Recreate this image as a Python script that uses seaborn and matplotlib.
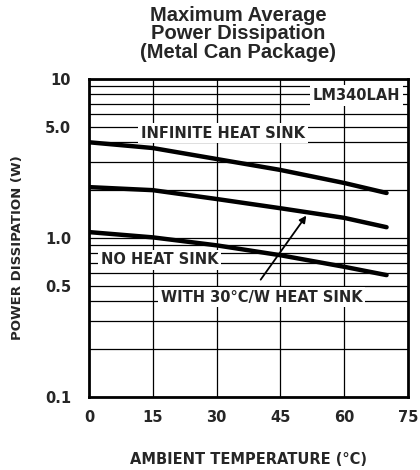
import numpy as np
import pandas as pd
import seaborn as sns
import matplotlib.pyplot as plt
from matplotlib.ticker import FixedLocator, NullFormatter, NullLocator

# values
temps = [0, 15, 30, 45, 60, 70]
infinite_sink = [4.0, 3.68, 3.14, 2.68, 2.22, 1.92]
sink_30cw = [2.09, 2.0, 1.76, 1.54, 1.34, 1.17]
no_sink = [1.09, 1.01, 0.90, 0.78, 0.66, 0.585]

x_ticks = [0, 15, 30, 45, 60, 75]
y_ticks = [0.1, 0.5, 1.0, 5.0, 10]
y_tick_labels = ["0.1", "0.5", "1.0", "5.0", "10"]

df = pd.DataFrame({
    "temp": temps * 3,
    "power": infinite_sink + sink_30cw + no_sink,
    "curve": ["infinite"] * 6 + ["30cw"] * 6 + ["none"] * 6,
})

sns.set_style("ticks")
narrow = ["DejaVu Sans Condensed", "Liberation Sans Narrow", "DejaVu Sans"]
plt.rcParams["font.family"] = narrow

fig = plt.figure(figsize=(4.2, 4.7), dpi=100)
ax = fig.add_axes([0.212, 0.155, 0.759, 0.677])

ax.set_yscale("log")
ax.set_xlim(0, 75)
ax.set_ylim(0.1, 10)

# grid: every log minor position horizontally, every 15 degrees vertically
minor_vals = [v * d for d in (0.1, 1) for v in range(1, 10)] + [10]
for v in minor_vals:
    ax.axhline(v, color="black", lw=0.9, zorder=1)
for v in x_ticks[1:-1]:
    ax.axvline(v, color="black", lw=0.9, zorder=1)

sns.lineplot(data=df, x="temp", y="power", units="curve", estimator=None,
             color="black", lw=3.2, ax=ax, zorder=3)

ax.yaxis.set_major_locator(FixedLocator(y_ticks))
ax.yaxis.set_minor_locator(NullLocator())
ax.yaxis.set_minor_formatter(NullFormatter())
ax.set_yticklabels(y_tick_labels)
ax.set_xticks(x_ticks)
ax.tick_params(length=0, pad=13, labelsize=10.5)
for lab in ax.get_xticklabels() + ax.get_yticklabels():
    lab.set_fontweight("bold")
ax.tick_params(axis="x", pad=9)

for s in ax.spines.values():
    s.set_linewidth(2)
    s.set_color("black")

ax.set_xlabel("AMBIENT TEMPERATURE (°C)", fontsize=10.5, fontweight="bold", labelpad=20)
ax.set_ylabel("POWER DISSIPATION (W)", fontsize=9.5, fontweight="bold")
ax.yaxis.set_label_coords(-0.205, 0.47)

box = dict(facecolor="white", edgecolor="none", pad=2)
txt = dict(fontsize=10.5, fontweight="bold", ha="center", va="center", bbox=box, zorder=4)
ax.text(63, 7.9, "LM340LAH", **txt)
ax.text(31.5, 4.57, "INFINITE HEAT SINK", **txt)
ax.text(16.6, 0.73, "NO HEAT SINK", **txt)
ax.text(40.6, 0.425, "WITH 30°C/W HEAT SINK", **txt)
ax.annotate("", xy=(51.5, 1.43), xytext=(40, 0.53),
            arrowprops=dict(arrowstyle="-|>", color="black", lw=1.3,
                            mutation_scale=10), zorder=4)

fig.text(0.567, 0.988, "Maximum Average\nPower Dissipation\n(Metal Can Package)",
         ha="center", va="top", fontsize=14.5, fontweight="bold",
         family=["Liberation Sans", "DejaVu Sans"], linespacing=0.98)

fig.savefig("out.png", dpi=100)
